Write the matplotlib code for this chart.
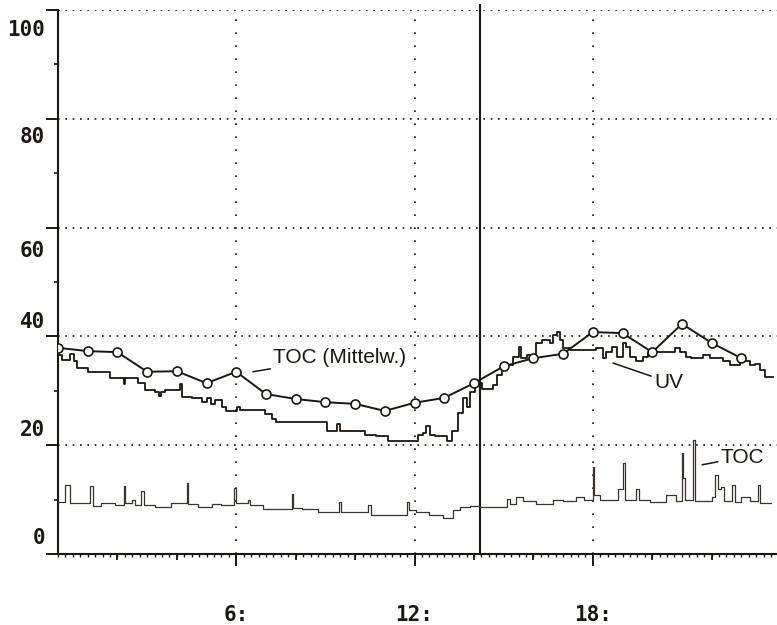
import matplotlib
matplotlib.use("Agg")
import matplotlib.pyplot as plt
from matplotlib.ticker import MultipleLocator, FixedLocator, NullFormatter

# --- data -------------------------------------------------------------
# hourly mean of TOC (circles)
toc_mean_h = list(range(24))
toc_mean_v = [37.9, 37.3, 37.1, 33.5, 33.6, 31.4, 33.5, 29.4, 28.5, 27.9,
              27.6, 26.3, 27.8, 28.7, 31.4, 34.5, 36.0, 36.8, 40.8, 40.6,
              37.1, 42.3, 38.8, 36.0]

# UV absorption record (step trace)
uv_h = [0.0, 0.12, 0.40, 0.55, 0.63, 1.02, 1.75, 2.22, 2.27, 2.70, 2.93, 3.26,
        3.40, 3.48, 3.60, 4.10, 4.18, 4.50, 4.83, 5.00, 5.15, 5.30, 5.51, 5.67,
        6.01, 6.12, 6.96, 7.19, 7.35, 9.04, 9.38, 9.49, 10.33, 10.72, 11.11,
        12.12, 12.30, 12.40, 12.52, 12.69, 13.08, 13.25, 13.47, 13.64, 13.75,
        13.86, 14.03, 14.26, 14.65, 14.76, 14.93, 15.10, 15.32, 15.50, 15.58,
        15.80, 15.90, 16.10, 16.28, 16.55, 16.67, 16.78, 16.89, 17.00, 17.23,
        18.12, 18.35, 18.46, 18.63, 18.80, 19.02, 19.13, 19.25, 19.47, 19.69,
        19.86, 20.09, 20.76, 20.93, 21.15, 21.32, 21.71, 21.94, 22.39, 22.61,
        22.95, 23.28, 23.45, 23.62, 23.79, 24.07]
uv_v = [36.6, 35.7, 36.8, 35.5, 34.1, 33.4, 32.4, 31.2, 32.4, 31.5, 30.1, 29.7,
        29.1, 29.7, 30.1, 31.3, 28.9, 28.7, 28.0, 28.6, 27.6, 28.4, 27.1, 26.3,
        27.0, 26.5, 25.7, 24.9, 24.2, 22.7, 23.9, 22.7, 21.9, 21.6, 20.8,
        21.8, 22.3, 23.5, 21.9, 21.6, 20.8, 22.7, 25.9, 28.6, 27.0,
        29.8, 31.4, 30.4, 31.0, 32.9, 34.1, 34.7, 36.3, 38.1, 36.0,
        36.6, 36.0, 38.7, 39.3, 38.7, 40.3, 40.9, 39.3, 37.8, 37.5,
        37.8, 36.0, 37.2, 38.1, 36.3, 38.7, 38.1, 36.3, 35.4, 36.3,
        36.9, 37.2, 37.8, 37.2, 36.3, 36.0, 36.6, 36.0, 35.4, 34.7,
        35.4, 34.7, 35.0, 33.8, 32.6, 32.6]

# TOC record (step trace with short peaks)
toc_h = [0.0, 0.24, 0.40, 1.08, 1.19, 1.45, 1.92, 2.22, 2.27, 2.50, 2.60, 2.80,
         2.90, 3.26, 3.82, 4.33, 4.38, 4.72, 5.17, 5.50, 5.93, 6.00, 6.40, 6.46,
         6.91, 7.75, 7.86, 7.92, 8.20, 8.76, 9.45, 9.52, 10.45, 10.52, 11.56,
         11.75, 11.82, 12.06, 12.50, 12.97, 13.30, 13.53, 13.86, 14.20, 15.10,
         15.20, 15.43, 15.66, 16.10, 16.67, 17.00, 17.45, 17.70, 18.00, 18.05,
         18.24, 18.85, 19.02, 19.10, 19.47, 19.55, 19.92, 20.48, 20.80, 20.99,
         21.05, 21.12, 21.38, 21.45, 22.00, 22.10, 22.20, 22.32, 22.40, 22.70,
         22.78, 23.00, 23.30, 23.56, 23.62, 24.01]
toc_v = [9.6, 12.7, 9.4, 12.5, 8.8, 9.4, 9.0, 12.5, 9.3, 10.0, 9.0, 11.5,
         9.0, 8.7, 9.4, 13.0, 9.2, 8.7, 9.2, 9.0, 12.1, 9.4, 10.0, 9.0,
         8.2, 8.2, 11.0, 8.5, 8.2, 7.8, 9.5, 7.8, 9.0, 7.2, 7.2,
         9.5, 8.0, 7.8, 7.2, 6.7, 8.1, 8.6, 8.8, 8.6, 10.2,
         9.2, 10.5, 9.7, 9.2, 10.0, 9.8, 10.5, 10.0, 16.0, 10.8,
         9.9, 11.9, 16.7, 9.9, 11.9, 10.0, 9.5, 10.8, 9.8, 18.5,
         14.0, 9.9, 21.0, 9.8, 10.5, 14.5, 11.9, 12.4, 9.8, 12.7,
         9.5, 10.5, 9.8, 12.7, 9.4, 9.4]

y_ticks = [0, 20, 40, 60, 80, 100]
y_tick_labels = ["0", "20", "40", "60", "80", "100"]
y_label_pos = [2.9, 22.8, 42.6, 55.7, 76.6, 96.3]
x_ticks = [6, 12, 18]
x_tick_labels = ["6:", "12:", "18:"]
marker_time = 14.2

# --- figure -----------------------------------------------------------
ink = "#1c1612"
W, H = 777, 625
fig = plt.figure(figsize=(W / 100, H / 100), dpi=100)
ax = fig.add_axes([58 / W, (H - 554) / H, (W - 58) / W, (554 - 10) / H])
ax.set_xlim(0, 24.2)
ax.set_ylim(0, 100)

for s in ("top", "right"):
    ax.spines[s].set_visible(False)
for s in ("left", "bottom"):
    ax.spines[s].set_color(ink)
    ax.spines[s].set_linewidth(1.5)

# dotted grid
for yv in [20, 40, 60, 80, 100]:
    ax.axhline(yv, color=ink, lw=1.2, ls=(0, (1, 3.4)), zorder=1)
for xv in x_ticks:
    ax.axvline(xv, color=ink, lw=1.2, ls=(0, (1, 6.8)), zorder=1)

# solid time marker
ax.axvline(marker_time, ymin=0, ymax=1.01, color=ink, lw=1.5, clip_on=False, zorder=2)

# traces
ax.plot(toc_h, toc_v, drawstyle="steps-post", color="#3a332e", lw=0.9, zorder=3)
ax.plot(uv_h, uv_v, drawstyle="steps-post", color=ink, lw=1.3, zorder=3)
ax.plot(toc_mean_h, toc_mean_v, color=ink, lw=1.4, marker="o", ms=6.5,
        mfc="white", mec=ink, mew=1.2, zorder=4)

# y axis
ax.yaxis.set_major_locator(FixedLocator(y_ticks))
ax.yaxis.set_major_formatter(NullFormatter())
ax.yaxis.set_minor_locator(MultipleLocator(10))
ax.tick_params(axis="y", which="major", direction="out", length=8.5, width=1.4, color=ink)
ax.tick_params(axis="y", which="minor", direction="out", length=3, width=1.2, color=ink)
tfont = dict(family="DejaVu Sans Mono", weight="bold", size=15, color=ink)
for pos, lab in zip(y_label_pos, y_tick_labels):
    ax.text(-0.018, pos, lab, transform=ax.get_yaxis_transform(),
            ha="right", va="center", **tfont)

# x axis: labelled hours, 2-hour ticks and 15-minute ticks
ax.set_xticks(x_ticks)
ax.set_xticklabels(x_tick_labels, fontdict=tfont)
ax.xaxis.set_minor_locator(MultipleLocator(0.25))
ax.tick_params(axis="x", which="major", direction="out", length=8.5, width=1.4,
               color=ink, pad=28)
ax.tick_params(axis="x", which="minor", direction="out", length=1.8, width=1.0, color=ink)
sec = ax.secondary_xaxis(0)
sec.set_xticks([h for h in range(2, 24, 2) if h not in x_ticks])
sec.xaxis.set_major_formatter(NullFormatter())
sec.tick_params(direction="out", length=4, width=1.3, color=ink)
sec.spines["bottom"].set_visible(False)

# annotations
afont = dict(family="Liberation Sans", size=15, color=ink)
arrow = dict(arrowstyle="-", color=ink, lw=1.1, shrinkA=0, shrinkB=0)
ax.annotate("TOC (Mittelw.)", xy=(6.56, 33.5), xytext=(7.24, 36.2),
            ha="left", va="center", arrowprops=arrow, **afont)
ax.annotate("UV", xy=(18.68, 35.1), xytext=(20.06, 31.6),
            ha="left", va="center", arrowprops=arrow, **afont)
ax.annotate("TOC", xy=(21.68, 16.4), xytext=(22.3, 17.8),
            ha="left", va="center", arrowprops=arrow, **afont)

fig.savefig("out.png", dpi=100)
